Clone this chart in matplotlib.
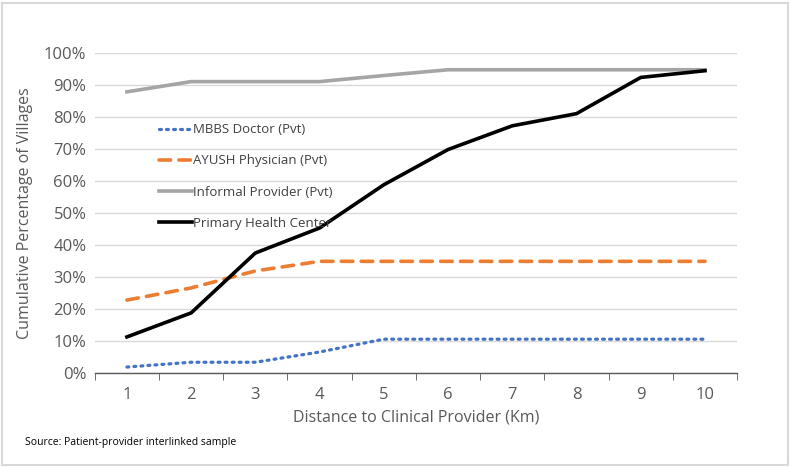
import numpy as np
import matplotlib.pyplot as plt
from matplotlib.ticker import PercentFormatter

plt.rcParams['font.family'] = ['Open Sans', 'DejaVu Sans']

# Data
distance = [1, 2, 3, 4, 5, 6, 7, 8, 9, 10]
mbbs = [1.9, 3.4, 3.4, 6.6, 10.6, 10.6, 10.6, 10.6, 10.6, 10.6]
ayush = [22.8, 26.6, 31.9, 34.9, 34.9, 34.9, 34.9, 34.9, 34.9, 34.9]
informal = [87.8, 91.0, 91.0, 91.0, 92.9, 94.7, 94.7, 94.7, 94.7, 94.7]
phc = [11.3, 18.8, 37.5, 45.3, 58.8, 69.8, 77.2, 81.0, 92.3, 94.4]

fig = plt.figure(figsize=(7.9, 4.67), dpi=100)
ax = fig.add_axes([0.120, 0.201, 0.813, 0.686])

ax.plot(distance, mbbs, color='#4472C4', linestyle=(0, (0.6, 1.6)), linewidth=2.3,
        dash_capstyle='round', label='MBBS Doctor (Pvt)')
ax.plot(distance, ayush, color='#ED7D31', linestyle=(0, (3.2, 2.3)), linewidth=2.6,
        dash_capstyle='round', label='AYUSH Physician (Pvt)')
ax.plot(distance, informal, color='#A5A5A5', linewidth=2.6, label='Informal Provider (Pvt)')
ax.plot(distance, phc, color='black', linewidth=2.6, label='Primary Health Center')

ax.set_xlim(0.5, 10.5)
ax.set_ylim(0, 100)
ax.set_yticks(np.arange(0, 101, 10))
ax.yaxis.set_major_formatter(PercentFormatter(decimals=0))
ax.set_xticks(distance)
ax.set_xticks(np.arange(0.5, 11, 1), minor=True)
ax.tick_params(axis='x', which='major', length=0, pad=10, labelsize=12, labelcolor='#595959')
ax.tick_params(axis='x', which='minor', length=5, color='#595959', direction='out')
ax.tick_params(axis='y', length=0, pad=6, labelsize=12, labelcolor='#595959')
ax.grid(axis='y', color='#D9D9D9', linewidth=1)
ax.set_axisbelow(True)
for s in ['top', 'right', 'left']:
    ax.spines[s].set_visible(False)
ax.spines['bottom'].set_color('#595959')
ax.spines['bottom'].set_linewidth(1)

ax.set_xlabel('Distance to Clinical Provider (Km)', fontsize=11.5, color='#595959', labelpad=5)
ax.set_ylabel('Cumulative Percentage of Villages', fontsize=11.5, color='#595959', labelpad=8)

leg = ax.legend(loc='upper left', bbox_to_anchor=(0.1, 0.78), frameon=False,
                fontsize=9.5, labelspacing=1.38, handlelength=2.5, handletextpad=0.1,
                borderaxespad=0, borderpad=0)
for t in leg.get_texts():
    t.set_color('#404040')

fig.text(0.032, 0.047, 'Source: Patient-provider interlinked sample', fontsize=7.5, color='black')

border = plt.Rectangle((0.003, 0.004), 0.994, 0.99, transform=fig.transFigure,
                       fill=False, edgecolor='#D9D9D9', linewidth=1.5)
fig.patches.append(border)

fig.savefig('out.png', dpi=100)
